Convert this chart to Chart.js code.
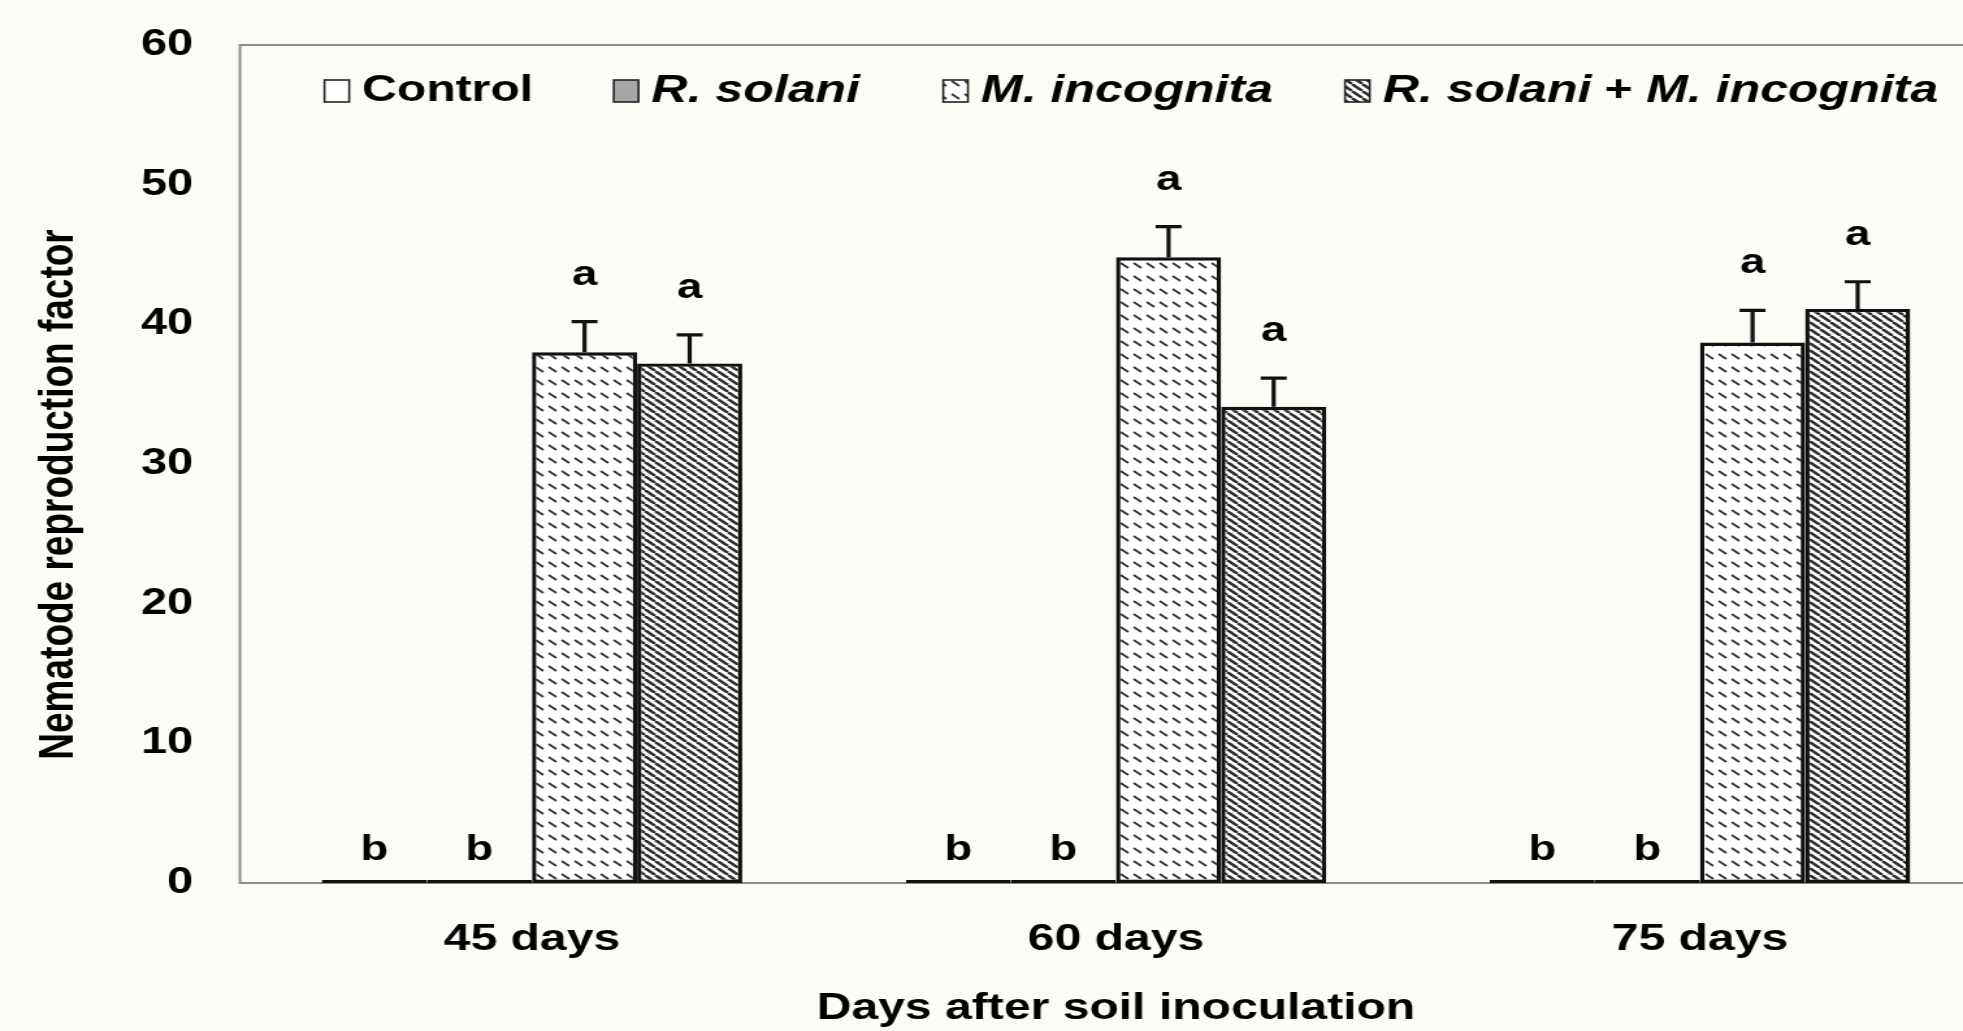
<!DOCTYPE html>
<html><head><meta charset="utf-8">
<script src="https://cdn.jsdelivr.net/npm/chart.js@4.4.1/dist/chart.umd.min.js"></script>
<style>
html,body{margin:0;padding:0;background:#fdfbf5;overflow:hidden;width:1963px;height:1031px;}
#wrap{position:absolute;left:0;top:0;width:1545px;height:1031px;transform:scaleX(1.3);transform-origin:0 0;}
</style></head><body>
<div id="wrap"><canvas id="c"></canvas></div>
<script>
const categories = ['45 days', '60 days', '75 days'];
const seriesLabels = ['Control', 'R. solani', 'M. incognita', 'R. solani + M. incognita'];
const controlValues = [0, 0, 0];
const rSolaniValues = [0, 0, 0];
const mIncognitaValues = [38.0, 44.8, 38.7];
const comboValues = [37.2, 34.1, 41.1];
const controlErrors = [0, 0, 0];
const rSolaniErrors = [0, 0, 0];
const mIncognitaErrors = [2.2, 2.2, 2.3];
const comboErrors = [2.05, 2.05, 1.95];
const controlLetters = ['b', 'b', 'b'];
const rSolaniLetters = ['b', 'b', 'b'];
const mIncognitaLetters = ['a', 'a', 'a'];
const comboLetters = ['a', 'a', 'a'];
const yMin = 0, yMax = 60, yStep = 10;
const xTitle = 'Days after soil inoculation';
const yTitle = 'Nematode reproduction factor';

const FONT = '"Liberation Sans", Arial, Helvetica, sans-serif';

function makePattern(kind) {
  const c = document.createElement('canvas');
  const g = c.getContext('2d');
  if (kind === 'dash') {
    c.width = 10; c.height = 13;
    g.fillStyle = '#ffffff'; g.fillRect(0, 0, 10, 13);
    g.strokeStyle = '#333333'; g.lineWidth = 1.8;
    g.beginPath(); g.moveTo(2, 3); g.lineTo(8, 8); g.stroke();
  } else {
    c.width = 8; c.height = 7;
    g.fillStyle = '#ffffff'; g.fillRect(0, 0, 8, 7);
    g.strokeStyle = '#2e2e2e'; g.lineWidth = 2.5;
    g.beginPath();
    for (const k of [-1, 0, 1]) { g.moveTo(k * 8, 0); g.lineTo(k * 8 + 8, 7); }
    g.stroke();
  }
  return g.createPattern(c, 'repeat');
}

const dashPattern = makePattern('dash');
const hatchPattern = makePattern('hatch');

const common = { borderColor: '#111111', borderWidth: 3.4, borderSkipped: false, minBarLength: 3 };
const datasets = [
  Object.assign({ label: seriesLabels[0], data: controlValues, backgroundColor: '#ffffff', errors: controlErrors, letters: controlLetters }, common),
  Object.assign({ label: seriesLabels[1], data: rSolaniValues, backgroundColor: '#a6a6a6', errors: rSolaniErrors, letters: rSolaniLetters }, common),
  Object.assign({ label: seriesLabels[2], data: mIncognitaValues, backgroundColor: dashPattern, errors: mIncognitaErrors, letters: mIncognitaLetters }, common),
  Object.assign({ label: seriesLabels[3], data: comboValues, backgroundColor: hatchPattern, errors: comboErrors, letters: comboLetters }, common)
];

const framePlugin = {
  id: 'frame',
  beforeDatasetsDraw(chart) {
    const { ctx, chartArea: a } = chart;
    ctx.save();
    ctx.strokeStyle = '#8a8a8a';
    ctx.lineWidth = 2;
    ctx.strokeRect(a.left, a.top, a.right - a.left, a.bottom - a.top);
    ctx.restore();
  }
};

const overlayPlugin = {
  id: 'overlay',
  afterDatasetsDraw(chart) {
    const { ctx, scales: { y } } = chart;
    ctx.save();
    chart.data.datasets.forEach((ds, i) => {
      const meta = chart.getDatasetMeta(i);
      meta.data.forEach((bar, j) => {
        const v = ds.data[j], e = ds.errors[j];
        let topY = bar.y;
        if (e > 0) {
          const ey = y.getPixelForValue(v + e);
          ctx.strokeStyle = '#111';
          ctx.lineWidth = 3.2;
          ctx.beginPath();
          ctx.moveTo(bar.x, bar.y); ctx.lineTo(bar.x, ey);
          ctx.moveTo(bar.x - 10, ey); ctx.lineTo(bar.x + 10, ey);
          ctx.stroke();
          topY = ey;
        }
        ctx.fillStyle = '#000';
        ctx.font = 'bold 35px ' + FONT;
        ctx.textAlign = 'center';
        ctx.textBaseline = 'alphabetic';
        ctx.fillText(ds.letters[j], bar.x, topY - (e > 0 ? 37 : 20));
      });
    });
    ctx.restore();
  }
};

const yTitlePlugin = {
  id: 'yTitle',
  afterDraw(chart) {
    const ctx = chart.ctx;
    ctx.save();
    ctx.translate(45.3, 494.5);
    ctx.rotate(-Math.PI / 2);
    ctx.font = 'bold 37px ' + FONT;
    ctx.fillStyle = '#000';
    ctx.textAlign = 'center';
    ctx.textBaseline = 'middle';
    ctx.fillText(yTitle, 0, 0);
    ctx.restore();
  }
};

const legendPlugin = {
  id: 'customLegend',
  afterDraw(chart) {
    const ctx = chart.ctx;
    let x = 249.6;
    const cy = 91, bw = 19, bh = 22, gap = 10, itemGaps = [62, 64, 55.5, 0];
    ctx.save();
    chart.data.datasets.forEach((ds, k) => {
      ctx.fillStyle = ds.backgroundColor;
      ctx.fillRect(x, cy - bh / 2, bw, bh);
      ctx.strokeStyle = '#222';
      ctx.lineWidth = 1.6;
      ctx.strokeRect(x, cy - bh / 2, bw, bh);
      x += bw + gap;
      const parts = ds.label.split(/( \+ )/);
      parts.forEach(p => {
        const upright = p === 'Control' || p.trim() === '+';
        ctx.font = upright ? 'bold 37px ' + FONT : 'italic bold 38.5px ' + FONT;
        ctx.fillStyle = '#000';
        ctx.textBaseline = 'middle';
        ctx.textAlign = 'left';
        ctx.fillText(p, x, cy);
        x += ctx.measureText(p).width;
      });
      x += itemGaps[k];
    });
    ctx.restore();
  }
};

new Chart(document.getElementById('c'), {
  type: 'bar',
  data: { labels: categories, datasets: datasets },
  options: {
    responsive: true,
    maintainAspectRatio: false,
    animation: false,
    layout: { padding: { top: 45, right: 12.7, bottom: 0, left: 0 } },
    datasets: { bar: { categoryPercentage: 0.72, barPercentage: 1.0 } },
    plugins: { legend: { display: false }, tooltip: { enabled: false } },
    scales: {
      x: {
        grid: { display: false, drawTicks: false },
        border: { display: false },
        ticks: { color: '#000', font: { family: FONT, size: 37, weight: 'bold' }, padding: 35 },
        title: { display: true, text: xTitle, color: '#000', font: { family: FONT, size: 37, weight: 'bold' }, padding: { top: 0, bottom: 0 } },
        afterFit(s) { s.height = 148; }
      },
      y: {
        min: yMin, max: yMax,
        grid: { display: false, drawTicks: false },
        border: { display: false },
        ticks: { stepSize: yStep, color: '#000', font: { family: FONT, size: 36, weight: 'bold' }, padding: 36 },
        title: { display: false, text: yTitle },
        afterFit(s) { s.width = 184.6; s.paddingTop = 20; s.paddingBottom = 20; }
      }
    }
  },
  plugins: [framePlugin, overlayPlugin, yTitlePlugin, legendPlugin]
});
</script>
</body></html>
